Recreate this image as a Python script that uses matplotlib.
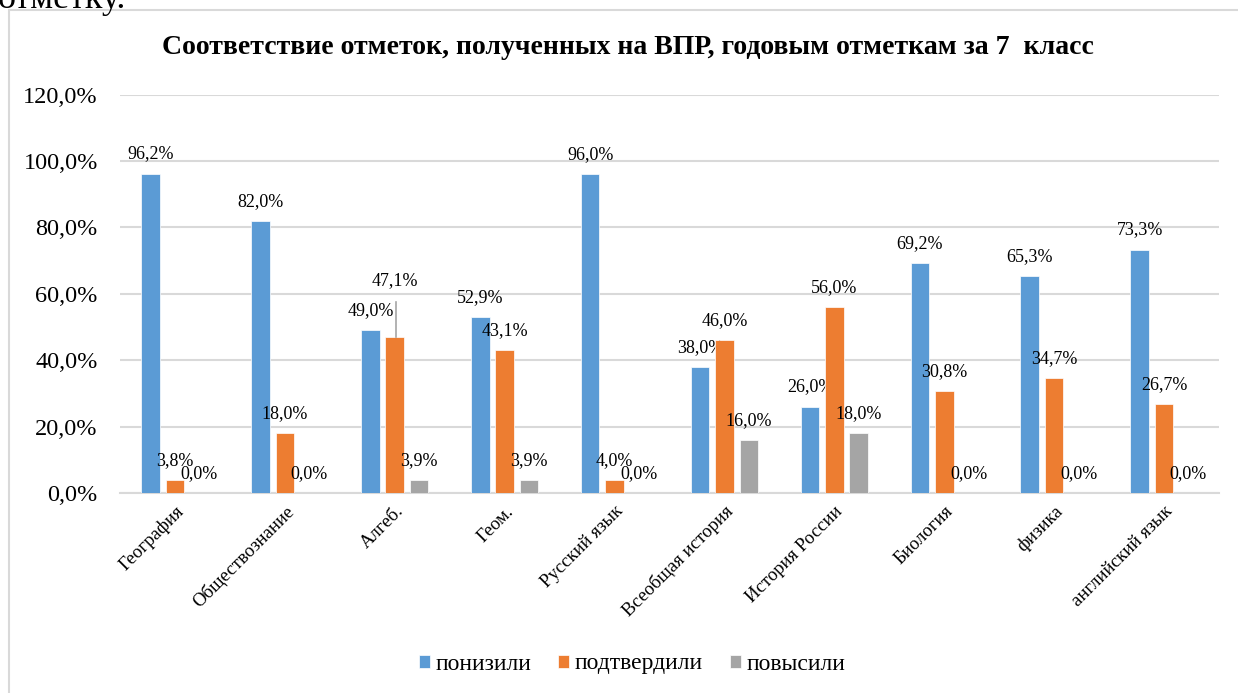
import matplotlib.pyplot as plt
import matplotlib.patches as patches
import numpy as np

plt.rcParams['font.family'] = ['Liberation Serif', 'DejaVu Serif']

#%% data
subjects = ['География', 'Обществознание', 'Алгеб.', 'Геом.', 'Русский язык',
            'Всеобщая история', 'История России', 'Биология', 'физика',
            'английский язык']
ponizili = [96.2, 82.0, 49.0, 52.9, 96.0, 38.0, 26.0, 69.2, 65.3, 73.3]
podtverdili = [3.8, 18.0, 47.1, 43.1, 4.0, 46.0, 56.0, 30.8, 34.7, 26.7]
povysili = [0.0, 0.0, 3.9, 3.9, 0.0, 16.0, 18.0, 0.0, 0.0, 0.0]
series_names = ['понизили', 'подтвердили', 'повысили']
yticks = [0, 20, 40, 60, 80, 100, 120]

colors = ['#5B9BD5', '#ED7D31', '#A5A5A5']

def fmt(v):
    return ('%.1f%%' % v).replace('.', ',')

#%% figure
fig = plt.figure(figsize=(12.38, 6.93), dpi=100)

# chart frame + bit of surrounding document text
fig.patches.append(patches.Rectangle((9/1238, -0.1), 1.2, 0.1+1-10/693,
                                     transform=fig.transFigure, fill=False,
                                     edgecolor='#D9D9D9', linewidth=1.5))
fig.text(-0.002, 1-8/693, 'отметку.', fontsize=26, va='baseline', ha='left')

ax = fig.add_axes([120/1238, 1-493/693, (1219-120)/1238, (493-94.6)/693])

x = np.arange(len(subjects))
w = 0.17
step = 0.222
for i, (vals, c, name) in enumerate(zip([ponizili, podtverdili, povysili], colors, series_names)):
    xs = x + (i-1)*step
    ax.bar(xs, vals, width=w, color=c, label=name, edgecolor='white', linewidth=0.5, zorder=3)
    for xx, v, subj in zip(xs, vals, subjects):
        if subj == 'Алгеб.' and i == 1:
            # label moved up with a leader line
            ax.annotate(fmt(v), (xx, v), xytext=(0, 34), textcoords='offset points',
                        ha='center', va='bottom', fontsize=13)
            ax.plot([xx+0.01, xx+0.01], [v, v+10.3], color='#A6A6A6', lw=1.2, zorder=4)
        else:
            ax.annotate(fmt(v), (xx, v), xytext=(0, 8), textcoords='offset points',
                        ha='center', va='bottom', fontsize=13)

ax.set_xlim(-0.5, len(subjects)-0.5)
ax.set_ylim(0, 120)
ax.set_yticks(yticks)
ax.set_yticklabels([fmt(t) for t in yticks], fontsize=17.5)
ax.set_xticks(x)
ax.set_xticklabels(subjects, rotation=45, ha='right', rotation_mode='anchor', fontsize=13.5)
ax.tick_params(axis='y', length=0, pad=16)
ax.tick_params(axis='x', length=0, pad=7)
ax.grid(axis='y', color='#D9D9D9', linewidth=1.5, zorder=0)
ax.set_axisbelow(True)
for s in ['top', 'right', 'left']:
    ax.spines[s].set_visible(False)
ax.spines['bottom'].set_color('#D9D9D9')
ax.spines['bottom'].set_linewidth(1.5)

fig.text(0.507, 1-47/693, 'Соответствие отметок, полученных на ВПР, годовым отметкам за 7  класс',
         ha='center', va='center', fontsize=20, fontweight='bold')

fig.legend(loc='center', bbox_to_anchor=(0.5105, 1-664/693), ncol=3, frameon=False,
           fontsize=17, handlelength=0.47, handleheight=0.47, handletextpad=0.22,
           columnspacing=1.15)

fig.savefig('out.png', dpi=100)
